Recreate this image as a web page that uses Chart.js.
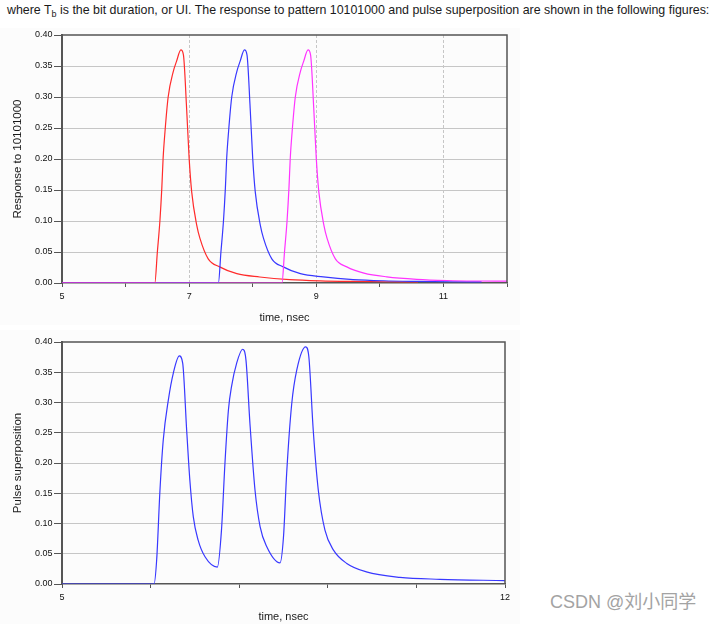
<!DOCTYPE html>
<html>
<head>
<meta charset="utf-8">
<script src="https://cdn.jsdelivr.net/npm/chart.js@4.4.1/dist/chart.umd.min.js"></script>
<style>
  html, body { margin: 0; padding: 0; background: #ffffff; width: 716px; height: 624px; overflow: hidden; }
  #caption { position: absolute; left: 7px; top: 3px; font-family: "Liberation Sans", Arial, sans-serif; font-size: 12.4px; color: #1a1a1a; white-space: nowrap; }
  #caption sub { font-size: 9px; vertical-align: -3px; line-height: 0; }
  canvas { position: absolute; background: #fcfcfc; }
  #c1 { left: 0; top: 28px; }
  #c2 { left: 0; top: 330px; }
  #wm { position: absolute; left: 550px; top: 587px; font-family: "Liberation Sans", Arial, "Noto Sans CJK SC", sans-serif; font-size: 18px; color: #a3a3a3; white-space: nowrap; }
</style>
</head>
<body>
<div id="caption">where T<sub>b</sub> is the bit duration, or UI. The response to pattern 10101000 and pulse superposition are shown in the following figures:</div>
<canvas id="c1" width="520" height="297"></canvas>
<canvas id="c2" width="520" height="294"></canvas>
<div id="wm">CSDN @刘小同学</div>
<script>
// ---------- data ----------
// Top chart: single-bit responses, time in nsec
const redTime   = [5, 6.46, 6.50, 6.54, 6.57, 6.59, 6.62, 6.67, 6.75, 6.80, 6.87, 6.91, 6.96, 7.00, 7.04, 7.12, 7.17, 7.30, 7.48, 7.75, 8.11, 8.58, 9.06, 9.60, 10.10, 10.60];
const redValue  = [0, 0, 0.050, 0.100, 0.153, 0.200, 0.244, 0.300, 0.341, 0.357, 0.376, 0.368, 0.282, 0.201, 0.147, 0.093, 0.072, 0.039, 0.026, 0.015, 0.0097, 0.0055, 0.0035, 0.0025, 0.0020, 0.0018];

const blueTime  = [5, 7.46, 7.50, 7.54, 7.57, 7.59, 7.62, 7.67, 7.75, 7.80, 7.87, 7.91, 7.96, 8.00, 8.04, 8.12, 8.17, 8.30, 8.48, 8.75, 9.11, 9.58, 10.06, 10.60, 11.10, 11.60];
const blueValue = [0, 0, 0.050, 0.100, 0.153, 0.200, 0.244, 0.300, 0.341, 0.357, 0.376, 0.368, 0.282, 0.201, 0.147, 0.093, 0.072, 0.039, 0.026, 0.015, 0.0098, 0.0056, 0.0036, 0.0026, 0.0020, 0.0018];

const magentaTime  = [5, 8.46, 8.50, 8.54, 8.57, 8.59, 8.62, 8.67, 8.75, 8.80, 8.87, 8.91, 8.96, 9.00, 9.04, 9.12, 9.17, 9.30, 9.48, 9.75, 10.11, 10.58, 11.06, 11.50, 12.00];
const magentaValue = [0, 0, 0.050, 0.100, 0.153, 0.200, 0.244, 0.300, 0.341, 0.357, 0.376, 0.368, 0.282, 0.201, 0.147, 0.093, 0.072, 0.039, 0.026, 0.016, 0.0100, 0.0060, 0.0040, 0.0032, 0.0030];

// Bottom chart: pulse superposition
const sumTime  = [5, 6.454, 6.496, 6.548, 6.60, 6.68, 6.76, 6.853, 6.907, 6.97, 7.02, 7.075, 7.15, 7.26, 7.455, 7.52, 7.575, 7.63, 7.68, 7.76, 7.855, 7.907, 7.97, 8.05, 8.13, 8.234, 8.445, 8.50, 8.55, 8.63, 8.71, 8.85, 8.90, 8.97, 9.05, 9.155, 9.29, 9.50, 9.81, 10.34, 10.97, 12.00];
const sumValue = [0, 0, 0.040, 0.155, 0.238, 0.304, 0.349, 0.377, 0.365, 0.254, 0.172, 0.111, 0.073, 0.045, 0.028, 0.089, 0.200, 0.288, 0.327, 0.365, 0.388, 0.370, 0.265, 0.155, 0.095, 0.062, 0.035, 0.078, 0.183, 0.298, 0.354, 0.392, 0.376, 0.254, 0.155, 0.089, 0.056, 0.034, 0.020, 0.011, 0.0078, 0.0055];

// Axis ticks
const yTicks = [0, 0.05, 0.10, 0.15, 0.20, 0.25, 0.30, 0.35, 0.40];
const xTicksTop = [5, 6, 7, 8, 9, 10, 11, 12];
const xTickLabelsTop = ['5', '', '7', '', '9', '', '11', ''];
const xGridTop = [7, 9, 11];
const xTicksBottom = [5, 6.4, 7.8, 9.2, 10.6, 12];
const xTickLabelsBottom = ['5', '', '', '', '', '12'];

// ---------- helpers ----------
const pts = (t, v) => t.map((x, i) => ({ x: x, y: v[i] }));
const FONT = '"Liberation Sans", Arial, sans-serif';
const AX = '#555555';
const GRID = '#c6c6c6';

const framePlugin = {
  id: 'frame',
  afterDatasetsDraw(chart) {
    const { ctx, chartArea: a } = chart;
    ctx.save();
    ctx.strokeStyle = AX;
    ctx.lineWidth = 1.5;
    ctx.beginPath();
    ctx.moveTo(a.left, a.top);
    ctx.lineTo(a.right, a.top);
    ctx.lineTo(a.right, a.bottom);
    ctx.stroke();
    ctx.restore();
  }
};

function yScale(title, titlePadTop) {
  return {
    type: 'linear', min: 0, max: 0.4,
    afterBuildTicks: (ax) => { ax.ticks = yTicks.map(v => ({ value: v })); },
    afterFit: (ax) => { ax.width = 62; },
    ticks: { color: '#111', font: { family: FONT, size: 9 }, padding: 1.5,
             callback: (v) => Number(v).toFixed(2) },
    grid: { color: (c) => (c.tick && c.tick.value > 0.001 && c.tick.value < 0.399) ? GRID : 'rgba(0,0,0,0)',
            tickColor: AX, tickLength: 8, lineWidth: 1 },
    border: { display: true, color: AX, width: 2 },
    title: { display: true, text: title, color: '#1a1a1a', font: { family: FONT, size: 11.5 }, padding: { top: titlePadTop, bottom: 0 } }
  };
}

function xScale(ticks, labels, gridVals, height, dash) {
  return {
    type: 'linear', min: 5, max: 12,
    afterBuildTicks: (ax) => { ax.ticks = ticks.map(v => ({ value: v })); },
    afterFit: (ax) => { ax.height = height; },
    ticks: { color: '#111', font: { family: FONT, size: 9 }, padding: 4, maxRotation: 0, autoSkip: false,
             callback: (v, i) => labels[i] },
    grid: { color: (c) => (c.tick && gridVals.indexOf(c.tick.value) >= 0) ? GRID : 'rgba(0,0,0,0)',
            tickColor: AX, tickLength: 4, lineWidth: 1, tickBorderDash: [] },
    border: { display: true, color: AX, width: 1.5, dash: dash },
    title: { display: true, text: 'time, nsec', color: '#1a1a1a', font: { family: FONT, size: 11 }, padding: { top: 0, bottom: 0.5 } }
  };
}

const lineDs = (data, color) => ({
  data: data, borderColor: color, borderWidth: 1.2, pointRadius: 0,
  cubicInterpolationMode: 'monotone', fill: false
});

Chart.defaults.font.family = FONT;

// ---------- top chart ----------
new Chart(document.getElementById('c1'), {
  type: 'line',
  data: {
    datasets: [
      lineDs(pts(magentaTime, magentaValue), '#ff33ff'),
      lineDs(pts(blueTime, blueValue), '#3838ff'),
      lineDs(pts(redTime, redValue), '#ff2b2b')
    ]
  },
  options: {
    responsive: false, animation: false, devicePixelRatio: 1,
    parsing: false, normalized: true,
    layout: { padding: { left: 0, top: 7, right: 13, bottom: 0 } },
    plugins: { legend: { display: false }, tooltip: { enabled: false } },
    scales: { x: xScale(xTicksTop, xTickLabelsTop, xGridTop, 42, [3, 2]), y: yScale('Response to 10101000', 11) }
  },
  plugins: [framePlugin]
});

// ---------- bottom chart ----------
new Chart(document.getElementById('c2'), {
  type: 'line',
  data: { datasets: [ lineDs(pts(sumTime, sumValue), '#3838ff') ] },
  options: {
    responsive: false, animation: false, devicePixelRatio: 1,
    parsing: false, normalized: true,
    layout: { padding: { left: 0, top: 12, right: 15, bottom: 0 } },
    plugins: { legend: { display: false }, tooltip: { enabled: false } },
    scales: { x: xScale(xTicksBottom, xTickLabelsBottom, [], 40, []), y: yScale('Pulse superposition', 11) }
  },
  plugins: [framePlugin]
});
</script>
</body>
</html>
